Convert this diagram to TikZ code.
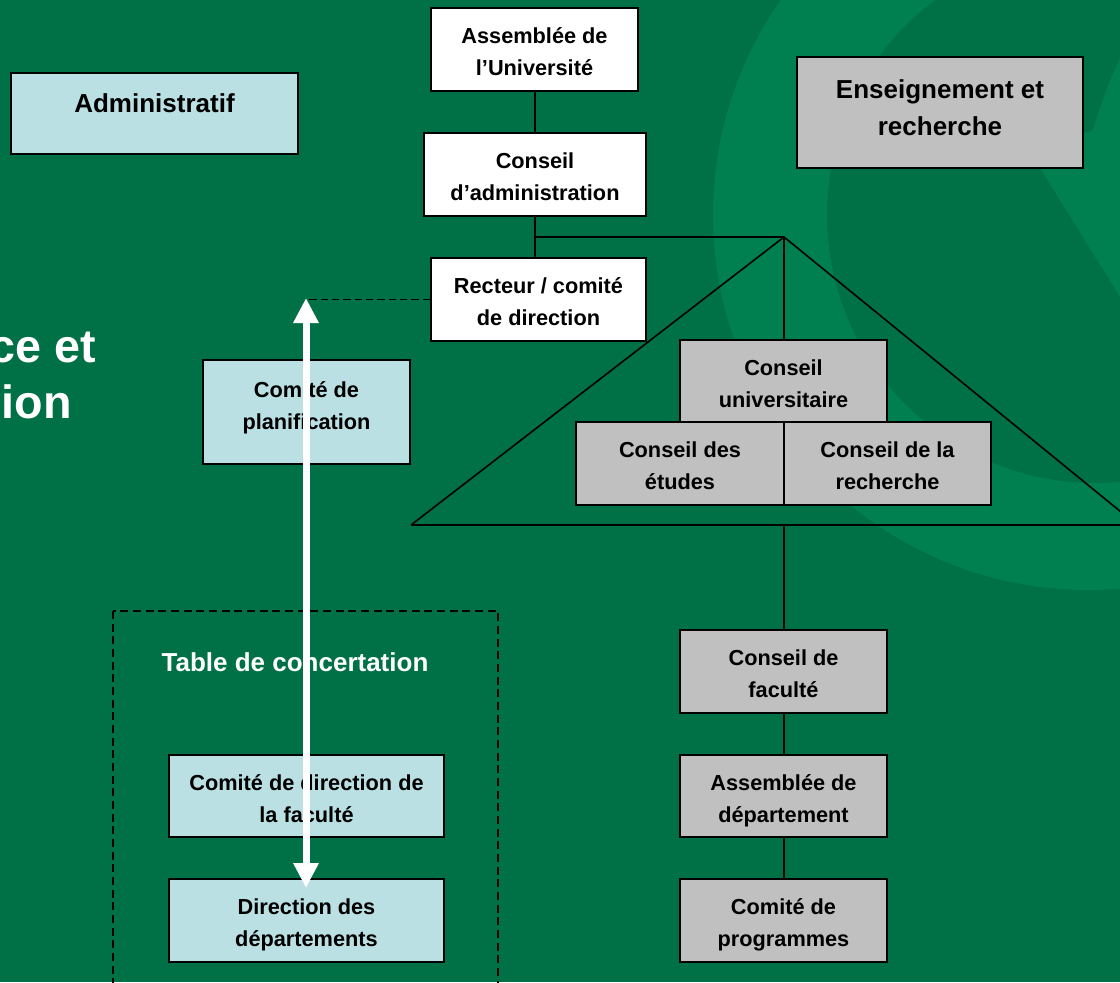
\documentclass[tikz,border=0pt]{standalone}
\usepackage{fontspec}
\setmainfont{Liberation Sans}
\usetikzlibrary{arrows.meta}
\definecolor{dkgreen}{RGB}{0,112,71}
\definecolor{ltgreen}{RGB}{0,128,81}
\definecolor{boxblue}{RGB}{186,224,227}
\definecolor{boxgray}{RGB}{192,192,192}
\newcommand{\mytop}{\rule{0pt}{20.5pt}}
\newcommand{\mybot}{\rule[-5pt]{0pt}{5pt}}
\begin{document}
\begin{tikzpicture}[x=0.75pt,y=-0.75pt,
  box/.style={draw=black, line width=1.5pt, inner sep=0pt, align=center,
    font=\bfseries\fontsize{16.3}{24}\selectfont},
  bigbox/.style={box, font=\bfseries\fontsize{19.5}{27.75}\selectfont},
  bw/.style={minimum width=#1*0.75pt},
  bh/.style={minimum height=#1*0.75pt},
  wbox/.style={box, fill=white},
  gbox/.style={box, fill=boxgray},
  lbbox/.style={box, fill=boxblue},
  conn/.style={draw=black, line width=1.5pt},
  tri/.style={draw=black, line width=1.2pt},
  dashline/.style={draw=black, line width=1.1pt, dash pattern=on 5.5pt off 3pt},
  titletext/.style={text=white, inner sep=0pt, font=\bfseries\fontsize{35}{42}\selectfont},
  tabletext/.style={text=white, inner sep=0pt, font=\bfseries\fontsize{19.5}{28}\selectfont},
  bigarrow/.style={draw=white, line width=5.25pt,
    {Triangle[length=18.75pt,width=18pt]}-{Triangle[length=18.75pt,width=18pt]}}
]
\useasboundingbox (0,0) rectangle (1120,982);
\clip (0,0) rectangle (1120,982);
% background
\fill[dkgreen] (0,0) rectangle (1120,982);
\fill[ltgreen, even odd rule] (1088,215) circle (281.25pt) (1095,215) circle (201pt);
\fill[ltgreen] (1030,152) -- (1093,130) .. controls (1102,100) and (1110,78) .. (1122,55) -- (1122,300) -- cycle;

% cut title
\node[titletext, anchor=base east] (t1) at (96,362) {ce et};
\node[titletext, anchor=base east] (t2) at (72,418) {ion};

% dashed frame
\draw[dashline, dash pattern=on 6pt off 3.5pt] (113,611) rectangle (498,1000);
\node[tabletext, anchor=base] (table) at (295,671) {Table de concertation};

% coordinates
\coordinate (apex) at (784,237);
\coordinate (tl) at (411,525);
\coordinate (tr) at (1137,525);
\coordinate (bm) at (784,525);
\coordinate (atop) at (306,298);
\coordinate (abot) at (306,888);

% boxes
\node[bigbox, fill=boxblue, bw=287, bh=81, text height=15pt, text depth=16.8pt] (adm) at (154.5,113.5) {Administratif};
\node[bigbox, fill=boxgray, bw=286, bh=111] (ens) at (940,112.5) {\rule{0pt}{14.6pt}Enseignement et\\recherche\rule[-8pt]{0pt}{8pt}};

\node[wbox, bw=207, bh=83] (au) at (534.5,49.5) {\mytop Assemblée de\\l’Université\mybot};
\node[wbox, bw=222, bh=83] (ca) at (535,174.5) {\mytop Conseil\\d’administration\mybot};
\node[wbox, bw=215, bh=83] (rec) at (538.5,299.5) {\mytop Recteur / comité\\de direction\mybot};

\node[lbbox, bw=207, bh=104] (plan) at (306.5,412) {\rule{0pt}{13pt}Comité de\\planification\rule[-11.5pt]{0pt}{11.5pt}};

% connectors
\draw[conn] (au.south) -- (au.south |- ca.north);
\draw[conn] (ca.south) -- (ca.south |- rec.north);
\draw[conn] (ca.south |- apex) -- (apex);
\draw[tri] (tl) -- (apex) -- (tr);
\draw[tri] (tl) -- (tr);

\node[gbox, bw=207, bh=82] (cu) at (783.5,381) {\mytop Conseil\\universitaire\mybot};
\node[gbox, bw=208, bh=83] (ce) at (680,463.5) {\mytop Conseil des\\études\mybot};
\node[gbox, bw=207, bh=83] (cr) at (887.5,463.5) {\mytop Conseil de la\\recherche\mybot};
\draw[conn] (apex) -- (apex |- cu.north);

\node[gbox, bw=207, bh=83] (cf) at (783.5,671.5) {\mytop Conseil de\\faculté\mybot};
\node[gbox, bw=207, bh=82] (ad) at (783.5,796) {\mytop Assemblée de\\département\mybot};
\node[gbox, bw=207, bh=83] (cp) at (783.5,920.5) {\mytop Comité de\\programmes\mybot};
\draw[conn] (bm) -- (bm |- cf.north);
\draw[conn] (cf.south) -- (ad.north);
\draw[conn] (ad.south) -- (cp.north);

\node[lbbox, bw=275, bh=82] (cdf) at (306.5,796) {\mytop Comité de direction de\\la faculté\mybot};
\node[lbbox, bw=275, bh=83] (dd) at (306.5,920.5) {\mytop Direction des\\départements\mybot};

% dashed link and arrow
\draw[dashline] (rec.west) -- (rec.west -| atop);
\draw[bigarrow] (atop) -- (abot);
\end{tikzpicture}
\end{document}
